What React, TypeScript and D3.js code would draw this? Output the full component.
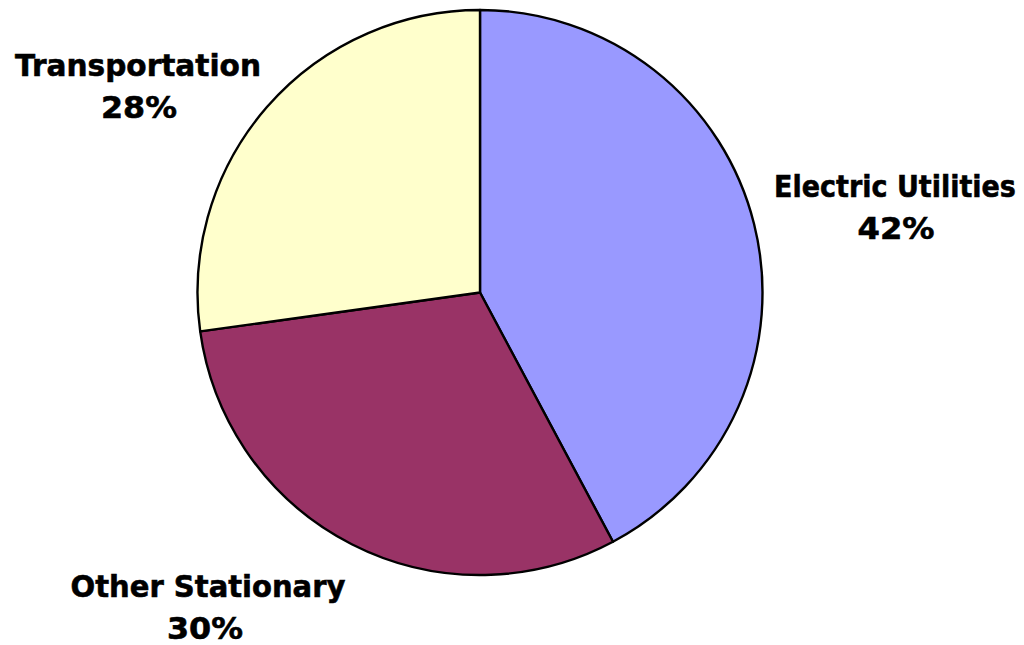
import React, { useLayoutEffect, useRef, useState } from "react";
import * as d3 from "d3";

const categories = ["Electric Utilities", "Other Stationary", "Transportation"];
const values = [42.2, 30.6, 27.2];
const percentLabels = ["42%", "30%", "28%"];
const colors = ["#9999FF", "#993366", "#FFFFCC"];

// label anchor (center x of each line, first baseline y) and target widths
const labelPos = [
  { x: 895, x2: 896, y: 197, w1: 242, w2: 77 },
  { x: 208, x2: 205, y: 597, w1: 275, w2: 76 },
  { x: 138, x2: 139, y: 76, w1: 246, w2: 76 },
];

function FitText(props: { x: number; y: number; w: number; text: string }) {
  const ref = useRef<SVGTextElement>(null);
  const [sx, setSx] = useState(1);
  useLayoutEffect(() => {
    if (ref.current) {
      const natural = ref.current.getComputedTextLength();
      if (natural > 0) setSx(props.w / natural);
    }
  }, [props.w, props.text]);
  return (
    <g transform={`translate(${props.x},${props.y}) scale(${sx},1)`}>
      <text ref={ref} x={0} y={0}>
        {props.text}
      </text>
    </g>
  );
}

export default function App() {
  const width = 1024;
  const height = 645;
  const cx = 480;
  const cy = 292.5;
  const r = 282.5;

  const pie = d3.pie<number>().sort(null).value((d) => d);
  const arcs = pie(values);
  const arcGen = d3.arc<d3.PieArcDatum<number>>().innerRadius(0).outerRadius(r);

  return (
    <svg
      width={width}
      height={height}
      style={{ position: "absolute", left: 0, top: 0, background: "#fff" }}
    >
      <g transform={`translate(${cx},${cy})`}>
        {arcs.map((a, i) => (
          <path
            key={i}
            d={arcGen(a) || ""}
            fill={colors[i]}
            stroke="#000"
            strokeWidth={2.4}
            strokeLinejoin="round"
          />
        ))}
      </g>
      {categories.map((c, i) => (
        <g
          key={c}
          fontFamily="'DejaVu Sans', Verdana, sans-serif"
          fontWeight="bold"
          fontSize={31}
          textAnchor="middle"
          fill="#000"
          stroke="#000"
          strokeWidth={0.6}
        >
          <FitText x={labelPos[i].x} y={labelPos[i].y} w={labelPos[i].w1} text={c} />
          <FitText
            x={labelPos[i].x2}
            y={labelPos[i].y + 42}
            w={labelPos[i].w2}
            text={percentLabels[i]}
          />
        </g>
      ))}
    </svg>
  );
}
